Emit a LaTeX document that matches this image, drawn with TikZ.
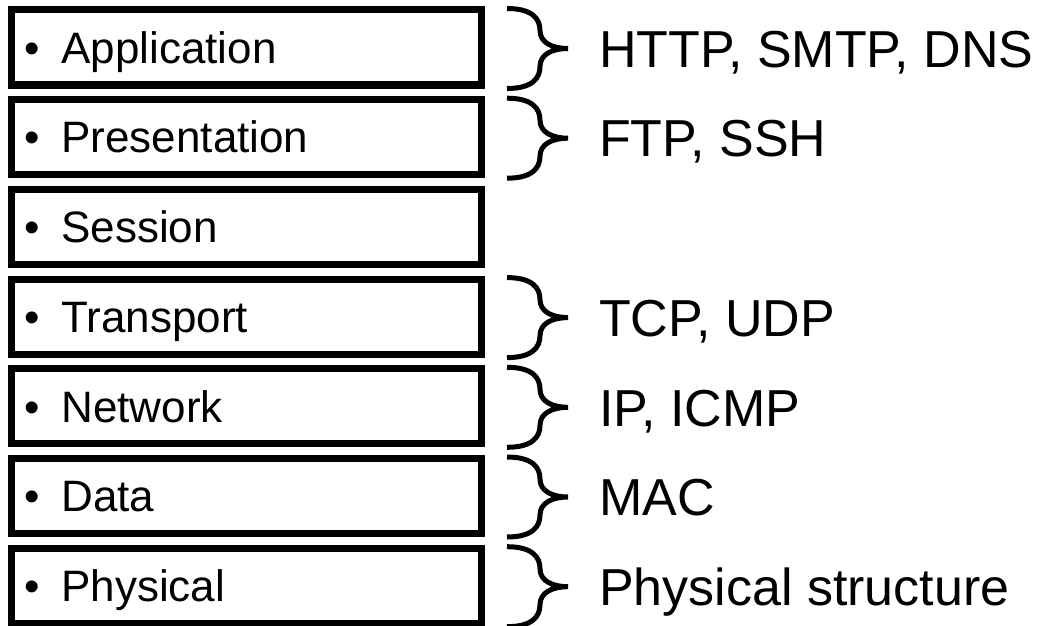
\documentclass[tikz,border=0pt]{standalone}
\usepackage{fontspec}
\setmainfont{Liberation Sans}
\usetikzlibrary{positioning}

\tikzset{
  layer/.style={draw, line width=7pt, minimum width=470pt, minimum height=75pt,
    text width=445pt, inner xsep=12.5pt, align=left,
    font=\fontsize{44}{48}\selectfont, text height=31.5pt, text depth=0pt},
  proto/.style={font=\fontsize{52}{56}\selectfont, inner sep=0pt,
    text height=37.5pt, text depth=0pt},
  curly/.style={line width=5pt}
}
\newcommand{\lbul}{\textbullet\hspace{22pt}}

\begin{document}
\begin{tikzpicture}[x=1pt, y=-1pt]
\fill[white] (0,0) rectangle (1047,626);
\useasboundingbox (0,0) rectangle (1047,626);

% the seven layers
\node[layer] (app)   at (246.5,47.5)  {\lbul Application};
\node[layer] (pres)  at (246.5,137.2) {\lbul Presentation};
\node[layer] (sess)  at (246.5,226.9) {\lbul Session};
\node[layer] (trans) at (246.5,316.6) {\lbul Transport};
\node[layer] (net)   at (246.5,406.3) {\lbul Network};
\node[layer] (data)  at (246.5,496.0) {\lbul Data};
\node[layer] (phys)  at (246.5,585.7) {\lbul Physical};

% braces
\foreach \n in {app,pres,trans,net,data,phys} {
  \path (\n.north east) ++(22,2) coordinate (\n-top);
  \begin{scope}[shift={(\n-top)}]
    \draw[curly] (0,0) .. controls (25,0) and (33,10) .. (33,22)
      .. controls (33,34) and (45,40) .. (61,40) coordinate (\n-tip)
      .. controls (45,40) and (33,46) .. (33,58)
      .. controls (33,70) and (25,80) .. (0,80);
  \end{scope}
}

% protocols
\node[proto, right=31pt of app-tip]   (app-proto)   {HTTP, SMTP, DNS};
\node[proto, right=31pt of pres-tip]  (pres-proto)  {FTP, SSH};
\node[proto, right=31pt of trans-tip] (trans-proto) {TCP, UDP};
\node[proto, right=31pt of net-tip]   (net-proto)   {IP, ICMP};
\node[proto, right=31pt of data-tip]  (data-proto)  {MAC};
\node[proto, right=31pt of phys-tip]  (phys-proto)  {Physical structure};
\end{tikzpicture}
\end{document}
